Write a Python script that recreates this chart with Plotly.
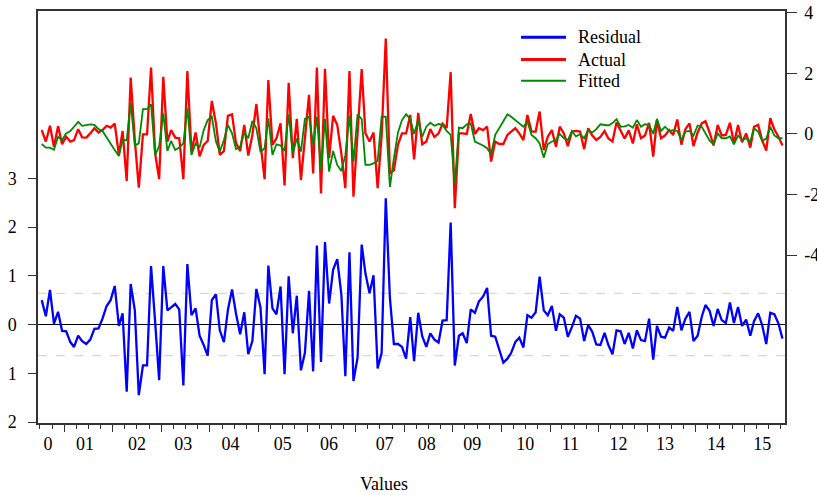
import pandas as pd
import plotly.graph_objects as go

# ---------------- data ----------------
months = pd.date_range("2000-07-01", periods=184, freq="MS") + pd.Timedelta(days=14)

residual = [
    0.50, 0.17, 0.71, 0.02, 0.26, -0.13, -0.14, -0.36, -0.46, -0.23,
    -0.34, -0.40, -0.31, -0.09, -0.08, 0.12, 0.38, 0.50, 0.79, -0.03,
    0.23, -1.38, 0.83, 0.29, -1.45, -0.84, -0.84, 1.20, 0.05, -1.14,
    1.20, 0.29, 0.35, 0.42, 0.31, -1.25, 1.24, 0.19, 0.33, -0.23,
    -0.42, -0.64, 0.50, 0.62, -0.12, -0.36, 0.30, 0.72, 0.22, -0.20,
    0.25, -0.61, -0.34, 0.73, 0.35, -1.02, 1.21, 0.33, 0.21, 0.78,
    -1.02, 0.99, -0.18, 0.59, -0.94, -0.58, 0.69, -0.96, 1.62, -0.77,
    1.69, 0.43, 1.12, 1.34, 0.62, -1.06, 1.48, -1.16, -0.68, 1.64,
    1.05, 0.64, 1.01, -0.90, -0.58, 2.59, 0.55, -0.40, -0.40, -0.46,
    -0.70, 0.15, -0.75, 0.24, -0.24, -0.46, -0.18, -0.31, -0.37, 0.08,
    0.09, 2.09, -0.84, -0.23, -0.18, -0.38, 0.31, 0.24, 0.47, 0.57,
    0.75, -0.23, -0.25, -0.49, -0.78, -0.70, -0.58, -0.36, -0.27, -0.47,
    0.19, 0.14, 0.25, 0.98, 0.29, 0.19, 0.38, -0.13, 0.21, 0.14,
    -0.25, -0.05, 0.18, 0.12, -0.34, -0.01, -0.15, -0.41, -0.42, -0.17,
    -0.42, -0.61, -0.12, -0.14, -0.40, -0.17, -0.49, -0.12, -0.32, -0.34,
    0.12, -0.72, -0.03, -0.25, -0.27, -0.06, -0.13, 0.36, -0.12, 0.12,
    0.26, -0.34, -0.23, 0.16, 0.40, 0.28, -0.03, 0.32, 0.09, 0.03,
    0.45, 0.03, 0.36, -0.03, 0.10, -0.23, 0.07, 0.23, -0.01, -0.40,
    0.24, 0.21, 0.02, -0.29,
]

actual = [
    0.13, -0.25, 0.27, -0.42, 0.26, -0.34, -0.09, -0.25, -0.20, 0.16,
    -0.11, -0.12, 0.02, 0.19, 0.05, 0.13, 0.27, 0.21, 0.34, -0.69,
    0.10, -1.55, 1.86, -0.20, -1.77, -0.01, -0.01, 2.19, -0.65, -1.49,
    1.89, -0.25, 0.13, -0.12, -0.14, -1.49, 2.08, -0.58, 0.05, -0.74,
    -0.36, -0.23, 1.09, 0.35, -0.69, -0.56, 0.60, 0.65, -0.30, -0.56,
    0.30, -0.71, -0.03, 0.99, -0.31, -1.49, 1.78, -0.36, -0.14, 0.35,
    -1.70, 1.69, -0.80, 0.50, -1.52, -0.05, 1.29, -1.30, 2.19, -1.96,
    2.15, -0.80, 0.60, 0.30, -0.65, -1.79, 2.08, -2.07, 0.00, 2.14,
    0.02, -0.25, 0.05, -1.79, -0.05, 3.15, -1.30, -1.20, -0.35, 0.02,
    0.02, 0.63, -0.84, 0.70, -0.34, -0.25, 0.16, -0.10, 0.02, 0.34,
    0.20, 2.04, -2.45, 0.02, 0.02, 0.00, 0.66, 0.00, 0.19, 0.13,
    0.24, -0.91, -0.25, -0.33, -0.33, -0.03, 0.08, 0.19, 0.02, -0.20,
    0.63, 0.08, 0.08, 0.74, -0.53, -0.09, 0.13, -0.42, 0.24, 0.02,
    -0.40, 0.08, 0.10, 0.08, -0.50, 0.19, -0.05, -0.20, -0.10, 0.10,
    -0.15, -0.25, 0.38, 0.08, -0.15, 0.12, -0.31, 0.32, -0.14, -0.05,
    0.37, -0.75, 0.45, -0.14, -0.05, 0.13, -0.03, 0.48, -0.35, 0.16,
    0.35, -0.40, 0.05, 0.35, 0.42, 0.05, -0.38, 0.30, -0.05, -0.03,
    0.37, -0.31, 0.30, -0.27, 0.02, -0.45, 0.24, 0.30, -0.20, -0.55,
    0.52, 0.15, -0.09, -0.38,
]

fitted = [
    -0.33, -0.45, -0.45, -0.52, -0.09, -0.20, 0.02, 0.10, 0.24, 0.40,
    0.27, 0.30, 0.32, 0.30, 0.16, 0.10, -0.12, -0.34, -0.53, -0.73,
    -0.20, -0.20, 1.03, -0.38, -0.31, 0.82, 0.82, 0.98, -0.70, -0.40,
    0.68, -0.56, -0.23, -0.53, -0.45, -0.31, 0.85, -0.69, -0.31, -0.45,
    0.13, 0.46, 0.57, -0.25, -0.58, -0.20, 0.30, 0.02, -0.50, -0.42,
    0.05, -0.14, 0.43, 0.19, -0.60, -0.47, 0.52, -0.69, -0.34, -0.38,
    -0.56, 0.65, -0.64, -0.15, -0.58, 0.50, 0.57, -0.36, 0.57, -1.19,
    0.50, -1.24, -0.56, -1.02, -1.22, -0.70, 0.60, -0.91, 0.65, 0.49,
    -1.02, -1.02, -0.97, -0.89, 0.57, 0.57, -1.75, -0.80, 0.05, 0.46,
    0.65, 0.50, 0.00, 0.45, -0.09, 0.24, 0.37, 0.27, 0.33, 0.30,
    0.10, -0.03, -1.66, 0.21, 0.19, 0.32, 0.35, -0.25, -0.31, -0.38,
    -0.47, -0.67, -0.03, 0.19, 0.41, 0.65, 0.57, 0.46, 0.35, 0.24,
    0.41, -0.03, -0.14, -0.31, -0.78, -0.34, -0.25, -0.20, 0.00, -0.14,
    -0.20, 0.10, -0.08, -0.01, -0.14, 0.13, 0.05, 0.16, 0.32, 0.30,
    0.28, 0.36, 0.49, 0.24, 0.25, 0.30, 0.21, 0.46, 0.24, 0.32,
    0.30, 0.00, 0.50, 0.10, 0.24, 0.10, 0.13, 0.10, -0.20, 0.08,
    0.10, -0.05, 0.28, 0.24, 0.02, -0.22, -0.34, 0.02, -0.14, -0.14,
    -0.08, -0.34, -0.05, -0.20, -0.14, -0.25, 0.19, 0.08, -0.23, -0.15,
    0.24, -0.05, -0.14, -0.14,
]

std_err = 0.64  # +/- 1 S.E. band of the residual

series_names = ["Residual", "Actual", "Fitted"]
series_colors = ["#0000ff", "#ff0000", "#008a00"]
x_title = "Values"

year_ticks = [f"{y}-01-01" for y in range(2001, 2016)]
quarter_ticks = [d.strftime("%Y-%m-%d") for d in pd.date_range("2000-07-01", "2015-10-01", freq="QS")]
label_pos = ["2000-09-01", "2001-06-05", "2002-07-01", "2003-06-15", "2004-06-03",
             "2005-07-01", "2006-06-15", "2007-08-07", "2008-06-18", "2009-05-27",
             "2010-06-28", "2011-06-03", "2012-05-30", "2013-05-15", "2014-06-03",
             "2015-05-15"]
label_text = ["0", "01", "02", "03", "04", "05", "06", "07", "08", "09",
              "10", "11", "12", "13", "14", "15"]

left_vals = [-2, -1, 0, 1, 2, 3]
left_text = ["2", "1", "0", "1", "2", "3"]
right_vals = [-4, -2, 0, 2, 4]
right_text = ["-4", "-2", "0", "2", "4"]

x_range = ["2000-06-17", "2015-11-03"]
FONT = "Liberation Serif"
AX = "#333333"

fig = go.Figure()
fig.add_trace(go.Scatter(x=months, y=residual, name=series_names[0], mode="lines",
                         line=dict(color=series_colors[0], width=2.3), yaxis="y"))
fig.add_trace(go.Scatter(x=months, y=actual, name=series_names[1], mode="lines",
                         line=dict(color=series_colors[1], width=2.3), yaxis="y2"))
fig.add_trace(go.Scatter(x=months, y=fitted, name=series_names[2], mode="lines",
                         line=dict(color=series_colors[2], width=1.8), yaxis="y2"))
# carrier for the year-label axis
fig.add_trace(go.Scatter(x=[], y=[], xaxis="x2", showlegend=False, hoverinfo="skip"))

for v in (std_err, -std_err):
    fig.add_shape(type="line", xref="paper", x0=0, x1=1, yref="y", y0=v, y1=v,
                  line=dict(color="#cfcfcf", width=1, dash="dash"), layer="below")

# legend drawn inside the frame (lines + labels)
leg_y = [0.936, 0.882, 0.831]
leg_w = [3, 3, 2]
for name, col, yy, w in zip(series_names, series_colors, leg_y, leg_w):
    fig.add_shape(type="line", xref="paper", yref="paper", x0=0.6466, x1=0.7068,
                  y0=yy, y1=yy, line=dict(color=col, width=w))
    fig.add_annotation(xref="paper", yref="paper", x=0.7200, y=yy, text=name,
                       showarrow=False, xanchor="left", yanchor="middle",
                       font=dict(size=18, family=FONT, color="black"))

# x-axis title (sits left of the plot centre, as in the original)
fig.add_annotation(xref="paper", yref="paper", x=0.463, y=-0.148, text=x_title,
                   showarrow=False, xanchor="center", yanchor="middle",
                   font=dict(size=18, family=FONT, color="black"))

fig.update_layout(
    width=817, height=495,
    margin=dict(l=38, r=32, t=11, b=72, autoexpand=False),
    paper_bgcolor="white", plot_bgcolor="white",
    font=dict(family=FONT, size=18, color="black"),
    showlegend=False,
    xaxis=dict(type="date", range=x_range, showgrid=False, zeroline=False,
               showline=True, linecolor=AX, linewidth=1.5, mirror=True,
               tickmode="array", tickvals=year_ticks, ticks="outside",
               ticklen=7, tickwidth=1, tickcolor=AX, showticklabels=False,
               minor=dict(tickmode="array", tickvals=quarter_ticks, ticks="outside",
                          ticklen=4, tickwidth=1, tickcolor=AX)),
    xaxis2=dict(type="date", range=x_range, overlaying="x", anchor="y", side="bottom",
                showgrid=False, zeroline=False, showline=False,
                tickmode="array", tickvals=label_pos, ticktext=label_text,
                ticks="", ticklabelstandoff=8, tickfont=dict(size=18, family=FONT)),
    yaxis=dict(range=[-2.02, 6.43], showgrid=False, showline=True, linecolor=AX,
               linewidth=1.5, zeroline=True, zerolinecolor="black", zerolinewidth=1,
               tickmode="array", tickvals=left_vals, ticktext=left_text,
               ticks="outside", ticklen=8, tickcolor=AX, ticklabelstandoff=8),
    yaxis2=dict(range=[-9.54, 4.06], overlaying="y", side="right", anchor="x",
                showgrid=False, showline=True, linecolor=AX, linewidth=1.5,
                zeroline=False, tickmode="array", tickvals=right_vals,
                ticktext=right_text, ticks="outside", ticklen=10, tickcolor=AX,
                ticklabelstandoff=4),
)

fig.write_html("out.html",
               config={"displayModeBar": False},
               post_script="document.body.style.margin='0';document.body.style.overflow='hidden';")
